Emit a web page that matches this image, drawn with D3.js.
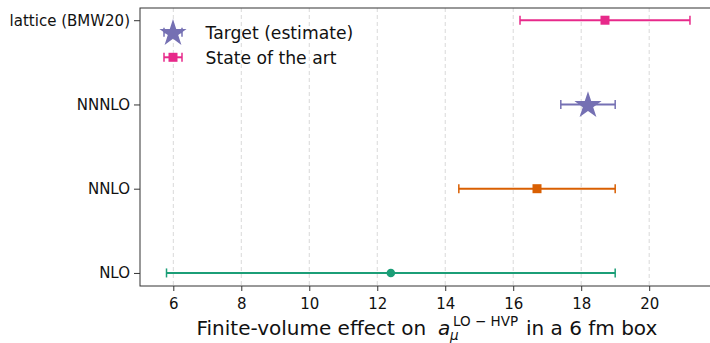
<!DOCTYPE html>
<html><head><meta charset="utf-8">
<script src="https://cdn.jsdelivr.net/npm/d3@7"></script>
<style>body{margin:0;background:#fff}svg{font-family:"DejaVu Sans",sans-serif}</style>
</head><body>
<svg id="c" width="710" height="343"></svg>
<script>
const categories = ["NLO", "NNLO", "NNNLO", "lattice (BMW20)"];
const centers = [12.4, 16.7, 18.2, 18.7];
const lowers = [5.8, 14.4, 17.4, 16.2];
const uppers = [19.0, 19.0, 19.0, 21.2];
const colors = ["#1b9e77", "#d95f02", "#7570b3", "#e7298a"];
const markers = ["circle", "square", "star", "square"];
const xTicks = [6, 8, 10, 12, 14, 16, 18, 20];
const legendLabels = ["Target (estimate)", "State of the art"];

const svg = d3.select("#c");
const L = 140, R = 709, T = 8, B = 286;
const x = d3.scaleLinear().domain([5.02, 21.76]).range([L, R]);
const y = d3.scaleLinear().domain([-0.155, 3.145]).range([B, T]);

// grid
svg.append("g").selectAll("line").data(xTicks).join("line")
  .attr("x1", d => x(d)).attr("x2", d => x(d)).attr("y1", T).attr("y2", B)
  .attr("stroke", "#d9d9d9").attr("stroke-width", 1).attr("stroke-dasharray", "4,3");

// axes
const xa = svg.append("g").attr("transform", `translate(0,${B})`)
  .call(d3.axisBottom(x).tickValues(xTicks).tickSize(5).tickPadding(4).tickFormat(d3.format("d")));
const ya = svg.append("g").attr("transform", `translate(${L},0)`)
  .call(d3.axisLeft(y).tickValues([0,1,2,3]).tickSize(6).tickPadding(4).tickFormat(i => categories[i]));
[xa, ya].forEach(a => {
  a.attr("font-size", 15).attr("font-family", "DejaVu Sans");
  a.selectAll("text").attr("fill", "#111");
  a.selectAll("line").attr("stroke", "#333");
  a.select(".domain").remove();
});
xa.selectAll("text").attr("dy", "0.9em");
// frame (right side lies outside the picture)
svg.append("rect").attr("x", L).attr("y", T).attr("width", 580).attr("height", B - T)
  .attr("fill", "none").attr("stroke", "#333").attr("stroke-width", 1);

const star = d3.symbol().type(d3.symbolStar).size(230);
function drawMarker(g, type, cx, cy, col) {
  if (type === "circle") g.append("circle").attr("cx", cx).attr("cy", cy).attr("r", 4.3).attr("fill", col);
  else if (type === "square") g.append("rect").attr("x", cx - 4.5).attr("y", cy - 4.5).attr("width", 9).attr("height", 9).attr("fill", col);
  else g.append("path").attr("d", star()).attr("transform", `translate(${cx},${cy + 1})`).attr("fill", col);
}

const g = svg.append("g");
categories.forEach((c, i) => {
  const cy = y(i), col = colors[i];
  g.append("line").attr("x1", x(lowers[i])).attr("x2", x(uppers[i])).attr("y1", cy).attr("y2", cy)
    .attr("stroke", col).attr("stroke-width", 2);
  [lowers[i], uppers[i]].forEach(v => g.append("line").attr("x1", x(v)).attr("x2", x(v))
    .attr("y1", cy - 4.5).attr("y2", cy + 4.5).attr("stroke", col).attr("stroke-width", 1.5));
  drawMarker(g, markers[i], x(centers[i]), cy, col);
});

// legend
const leg = svg.append("g");
[[2, 32.3], [3, 57.3]].forEach(([i, ly], k) => {
  const col = colors[i];
  leg.append("line").attr("x1", 164).attr("x2", 182).attr("y1", ly).attr("y2", ly).attr("stroke", col).attr("stroke-width", 2);
  [164, 182].forEach(v => leg.append("line").attr("x1", v).attr("x2", v).attr("y1", ly - 4.5).attr("y2", ly + 4.5).attr("stroke", col).attr("stroke-width", 1.5));
  drawMarker(leg, markers[i], 173, ly, col);
  leg.append("text").attr("x", 205.5).attr("y", ly + 6.2).attr("font-size", 17.2).attr("fill", "#111").text(legendLabels[k]);
});

// x label
const base = 335;
function piece(txt, px, size, italic) {
  return svg.append("text").attr("x", px).attr("y", base).attr("font-size", size)
    .attr("fill", "#111").attr("font-style", italic ? "italic" : "normal").text(txt);
}
piece("Finite-volume effect on", 196.5, 20, false);
const am = piece("a", 438, 20, true);
am.append("tspan").attr("x", 450).attr("y", base + 5).attr("font-size", 13.5).text("μ");
am.append("tspan").attr("x", 453).attr("y", base - 9).attr("font-size", 13.5).attr("font-style", "normal").text("LO − HVP");
piece("in a 6 fm box", 526, 20, false);
</script>
</body></html>
